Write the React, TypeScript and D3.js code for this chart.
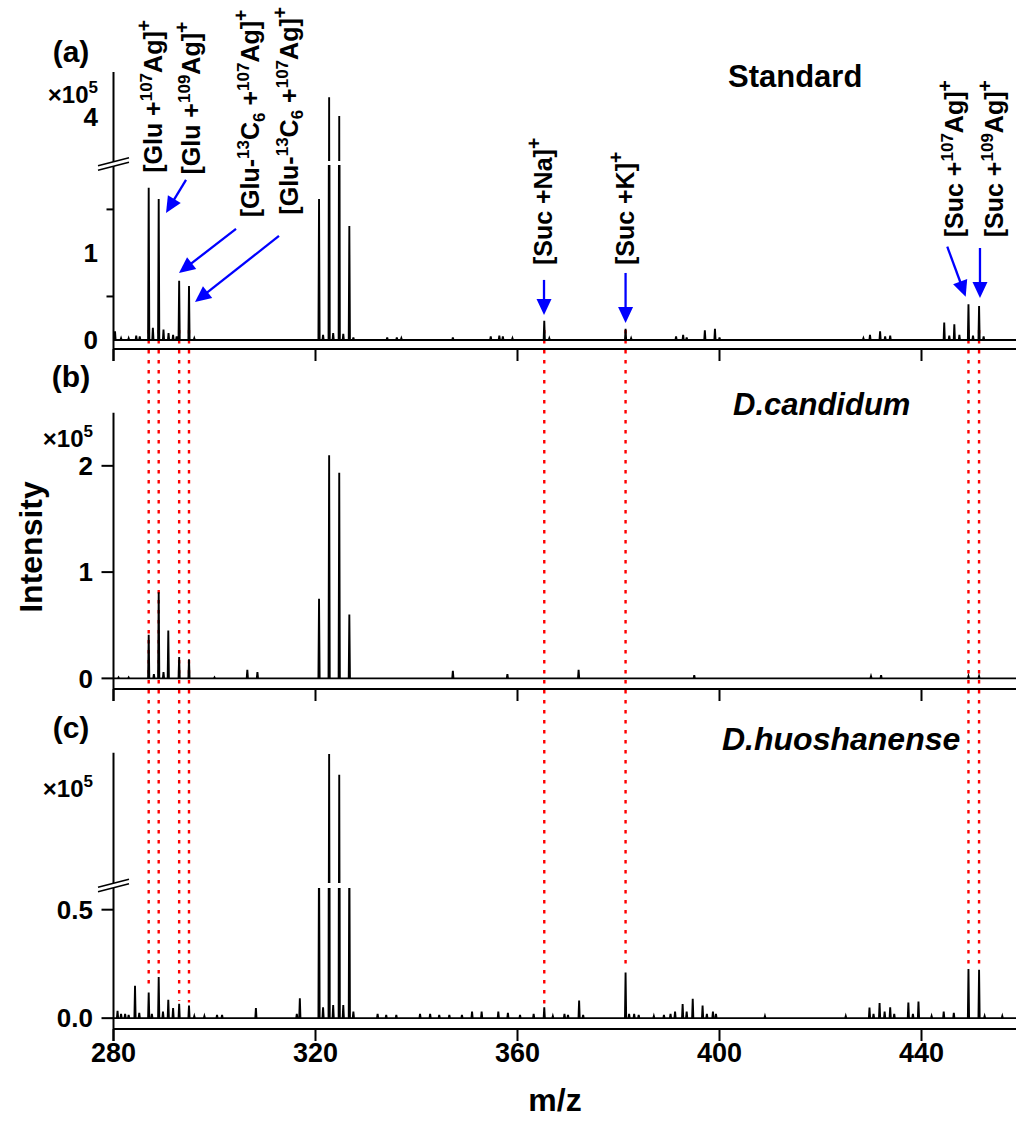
import React from "react";
import * as d3 from "d3";

// ---------------- DATA (m/z, intensity ×10^5) ----------------
const standardPeaks: [number, number][] = [
  [280.3, 0.1], [281.5, 0.02], [283.0, 0.02], [284.5, 0.05], [285.2, 0.04],
  [286.97, 1.75], [287.8, 0.14], [288.95, 1.62], [289.9, 0.12], [290.9, 0.08],
  [291.8, 0.06], [292.5, 0.04], [293.0, 0.68], [294.95, 0.62], [296.0, 0.02],
  [320.7, 1.62], [321.5, 0.06], [322.7, 4.22], [323.5, 0.08], [324.7, 4.01],
  [325.5, 0.07], [326.7, 1.31], [327.5, 0.03], [334.2, 0.03], [336.1, 0.03],
  [337.0, 0.02], [347.2, 0.03], [354.7, 0.04], [356.4, 0.05], [357.1, 0.04],
  [359.0, 0.02], [365.3, 0.22], [366.3, 0.02], [381.4, 0.13], [382.5, 0.02],
  [391.4, 0.04], [392.8, 0.06], [393.5, 0.03], [397.1, 0.11], [399.1, 0.13],
  [400.0, 0.03], [428.5, 0.02], [429.8, 0.06], [431.8, 0.1], [432.8, 0.04],
  [433.8, 0.05], [444.5, 0.2], [445.5, 0.05], [446.5, 0.18], [447.5, 0.06],
  [449.3, 0.41], [450.2, 0.05], [451.4, 0.39], [452.3, 0.04],
];

const candidumPeaks: [number, number][] = [
  [281.0, 0.01], [283.0, 0.01], [286.97, 0.41], [288.0, 0.04], [288.95, 0.81],
  [289.9, 0.06], [290.85, 0.45], [293.0, 0.2], [294.95, 0.18], [300.0, 0.01],
  [306.5, 0.08], [308.5, 0.06], [320.7, 0.75], [322.7, 2.1], [324.7, 1.935],
  [326.7, 0.6], [347.2, 0.07], [358.0, 0.04], [372.1, 0.08], [395.0, 0.03],
  [430.0, 0.02], [432.0, 0.03], [449.3, 0.02], [451.4, 0.02],
];

const huoshanensePeaks: [number, number][] = [
  [280.8, 0.034], [281.5, 0.02], [282.3, 0.02], [283.0, 0.015], [284.26, 0.149],
  [285.1, 0.025], [286.97, 0.118], [287.6, 0.02], [288.95, 0.19], [289.8, 0.03],
  [290.85, 0.085], [291.8, 0.046], [293.0, 0.066], [294.95, 0.058], [296.0, 0.01],
  [298.0, 0.01], [300.5, 0.015], [301.5, 0.015], [308.2, 0.046], [316.3, 0.02],
  [316.9, 0.092], [320.7, 0.8], [321.5, 0.05], [322.7, 1.99], [323.5, 0.06],
  [324.7, 1.83], [325.5, 0.06], [326.7, 0.8], [327.5, 0.03], [332.3, 0.02],
  [334.0, 0.015], [336.0, 0.015], [340.7, 0.02], [342.7, 0.02], [344.5, 0.015],
  [346.5, 0.015], [349.0, 0.015], [351.0, 0.03], [352.9, 0.03], [356.2, 0.03],
  [358.1, 0.025], [360.5, 0.015], [363.2, 0.02], [365.3, 0.05], [367.0, 0.01],
  [369.3, 0.02], [370.0, 0.015], [372.2, 0.081], [373.0, 0.015], [381.4, 0.21],
  [382.1, 0.02], [383.1, 0.02], [384.0, 0.015], [387.0, 0.01], [389.0, 0.015],
  [390.3, 0.02], [391.2, 0.03], [392.7, 0.065], [393.5, 0.03], [394.7, 0.089],
  [396.65, 0.058], [397.5, 0.02], [398.7, 0.03], [399.3, 0.02], [409.0, 0.01],
  [425.0, 0.01], [429.7, 0.049], [430.5, 0.02], [431.7, 0.07], [432.7, 0.03],
  [433.8, 0.05], [434.6, 0.02], [437.4, 0.072], [438.3, 0.02], [439.4, 0.077],
  [442.0, 0.01], [444.4, 0.03], [446.4, 0.025], [449.3, 0.226], [451.4, 0.223],
  [452.5, 0.01], [456.0, 0.01],
];

const markerMz = [286.97, 288.95, 293.0, 294.95, 365.3, 381.4, 449.3, 451.4];

const xTicks = [280, 320, 360, 400, 440];
const xDomain: [number, number] = [280, 460];

const yTicksA = [0, 1];
const yTicksAUpper = [4];
const yMinorA = [0.5, 1.5];
const yTicksB = [0, 1, 2];
const yTicksC = [0, 0.5];

const panelNames = ["Standard", "D.candidum", "D.huoshanense"];
const panelLetters = ["(a)", "(b)", "(c)"];

type Part = { t: string; k?: "sup" | "sub" | "supL" };
const annotationTexts: Part[][] = [
  [{ t: "[Glu +" }, { t: "107", k: "sup" }, { t: "Ag]" }, { t: "+", k: "supL" }],
  [{ t: "[Glu +" }, { t: "109", k: "sup" }, { t: "Ag]" }, { t: "+", k: "supL" }],
  [{ t: "[Glu-" }, { t: "13", k: "sup" }, { t: "C" }, { t: "6", k: "sub" }, { t: " +" }, { t: "107", k: "sup" }, { t: "Ag]" }, { t: "+", k: "supL" }],
  [{ t: "[Glu-" }, { t: "13", k: "sup" }, { t: "C" }, { t: "6", k: "sub" }, { t: " +" }, { t: "107", k: "sup" }, { t: "Ag]" }, { t: "+", k: "supL" }],
  [{ t: "[Suc +Na]" }, { t: "+", k: "supL" }],
  [{ t: "[Suc +K]" }, { t: "+", k: "supL" }],
  [{ t: "[Suc +" }, { t: "107", k: "sup" }, { t: "Ag]" }, { t: "+", k: "supL" }],
  [{ t: "[Suc +" }, { t: "109", k: "sup" }, { t: "Ag]" }, { t: "+", k: "supL" }],
];
// anchor positions of annotation labels (m/z of baseline, intensity of text start) in panel (a)
const annotationAnchorMz = [289.6, 297.1, 308.9, 316.5, 366.9, 383.1, 448.3, 456.2];
const annotationAnchorY = [1.92, 1.9, 1.41, 1.44, 0.86, 0.86, 1.18, 1.18];

// arrows in panel (a): tail and tip in data units
const arrowTail: [number, number][] = [
  [294.36, 1.839], [304.26, 1.276], [312.77, 1.195], [365.25, 0.69],
  [381.4, 0.77], [445.1, 1.072], [451.58, 1.057],
];
const arrowTip: [number, number][] = [
  [290.4, 1.46], [292.97, 0.77], [296.14, 0.437], [365.25, 0.287],
  [381.4, 0.195], [448.75, 0.498], [451.58, 0.483],
];

// ---------------- LAYOUT ----------------
const W = 1016;
const H = 1122;
const FONT = "'Liberation Sans', Arial, Helvetica, sans-serif";
const AX_LEFT = 113.5;

const x = d3.scaleLinear().domain(xDomain).range([AX_LEFT, 1022.5]);

const yA = d3.scaleLinear().domain([-0.1, 2.01]).range([348.7, 165]);
const yAU = d3.scaleLinear().domain([3.51, 4.5]).range([161, 72]);
const yB = d3.scaleLinear().domain([-0.1, 2.5]).range([689, 412.7]);
const yC = d3.scaleLinear().domain([-0.05, 0.6]).range([1029, 888]);
const yCU = d3.scaleLinear().domain([1.0, 2.0]).range([883, 752.7]);

function spectrumPath(peaks: [number, number][], y: d3.ScaleLinear<number, number>) {
  const pts: [number, number][] = [[xDomain[0], 0]];
  const sorted = [...peaks].sort((a, b) => a[0] - b[0]);
  const w = 0.12;
  sorted.forEach(([m, h]) => {
    pts.push([m - w, 0], [m, h], [m + w, 0]);
  });
  pts.push([xDomain[1], 0]);
  return d3.line<[number, number]>().x((d) => x(d[0])).y((d) => y(d[1]))(pts) || "";
}

function RichText({ parts, size, transform }: { parts: Part[]; size: number; transform: string }) {
  let shift = 0;
  return (
    <text transform={transform} fontFamily={FONT} fontWeight="bold" fontSize={size} fill="#000">
      {parts.map((p, i) => {
        let target = 0;
        let fs = size;
        if (p.k === "sup") { target = -size * 0.4; fs = size * 0.68; }
        if (p.k === "supL") { target = -size * 0.45; fs = size * 0.78; }
        if (p.k === "sub") { target = size * 0.22; fs = size * 0.68; }
        const dy = target - shift;
        shift = target;
        return (
          <tspan key={i} dy={dy} fontSize={fs}>{p.t}</tspan>
        );
      })}
    </text>
  );
}

function Arrow({ tail, tip }: { tail: [number, number]; tip: [number, number] }) {
  const x1 = x(tail[0]), y1 = yA(tail[1]);
  const x2 = x(tip[0]), y2 = yA(tip[1]);
  const dx = x2 - x1, dy = y2 - y1;
  const len = Math.hypot(dx, dy);
  const ux = dx / len, uy = dy / len;
  const hl = 16, hw = 7.5;
  const bx = x2 - ux * hl, by = y2 - uy * hl;
  const px = -uy, py = ux;
  const pts = `${x2},${y2} ${bx + px * hw},${by + py * hw} ${bx - px * hw},${by - py * hw}`;
  return (
    <g>
      <line x1={x1} y1={y1} x2={bx + ux * 2} y2={by + uy * 2} stroke="#0000ff" strokeWidth={2.3} />
      <polygon points={pts} fill="#0000ff" />
    </g>
  );
}

function BreakMark({ cy }: { cy: number }) {
  const hx = 15.5, hy = 4, gap = 2.3;
  const l1 = { x1: AX_LEFT - hx, y1: cy - gap + hy, x2: AX_LEFT + hx, y2: cy - gap - hy };
  const l2 = { x1: AX_LEFT - hx, y1: cy + gap + hy, x2: AX_LEFT + hx, y2: cy + gap - hy };
  return (
    <g>
      <polygon
        points={`${l1.x1},${l1.y1} ${l1.x2},${l1.y2} ${l2.x2},${l2.y2} ${l2.x1},${l2.y1}`}
        fill="#fff"
      />
      <line {...l1} stroke="#000" strokeWidth={1.6} />
      <line {...l2} stroke="#000" strokeWidth={1.6} />
    </g>
  );
}

function XAxis({ yPos }: { yPos: number }) {
  return (
    <g>
      <line x1={AX_LEFT} x2={W} y1={yPos} y2={yPos} stroke="#000" strokeWidth={2} />
      {xTicks.map((t) => (
        <line key={t} x1={x(t)} x2={x(t)} y1={yPos} y2={yPos + 12} stroke="#000" strokeWidth={2} />
      ))}
    </g>
  );
}

function TimesTen({ right, baseY }: { right: number; baseY: number }) {
  return (
    <text x={right} y={baseY} textAnchor="end" fontFamily={FONT} fontWeight="bold" fontSize={24}>
      ×10<tspan dy={-10} fontSize={17}>5</tspan>
    </text>
  );
}

function nearestPeak(peaks: [number, number][], m: number) {
  let best = 0;
  peaks.forEach(([pm, h]) => {
    if (Math.abs(pm - m) < 0.3 && h > best) best = h;
  });
  return best;
}

export default function App() {
  const tickLabel = (v: number, y: number, right: number, fmt: (v: number) => string) => (
    <text key={v} x={right} y={y + 9.3} textAnchor="end" fontFamily={FONT} fontWeight="bold" fontSize={26}>
      {fmt(v)}
    </text>
  );

  return (
    <svg
      width={W}
      height={H}
      viewBox={`0 0 ${W} ${H}`}
      style={{ position: "absolute", left: 0, top: 0, background: "#fff" }}
    >
      <defs>
        <clipPath id="clipALow"><rect x={0} y={165} width={W} height={200} /></clipPath>
        <clipPath id="clipAUp"><rect x={0} y={0} width={W} height={161} /></clipPath>
        <clipPath id="clipCLow"><rect x={0} y={888} width={W} height={200} /></clipPath>
        <clipPath id="clipCUp"><rect x={0} y={700} width={W} height={183} /></clipPath>
      </defs>
      <rect x={0} y={0} width={W} height={H} fill="#fff" />

      {/* red dotted guide lines */}
      {markerMz.map((m) => (
        <line
          key={m}
          x1={x(m)}
          x2={x(m)}
          y1={330}
          y2={yC(nearestPeak(huoshanensePeaks, m)) - 3}
          stroke="#ff0000"
          strokeWidth={2.4}
          strokeDasharray="3.5,6.5"
        />
      ))}

      {/* ---------- Panel (a) ---------- */}
      <path d={spectrumPath(standardPeaks, yA)} fill="none" stroke="#000" strokeWidth={1.9} clipPath="url(#clipALow)" />
      <path d={spectrumPath(standardPeaks, yAU)} fill="none" stroke="#000" strokeWidth={1.9} clipPath="url(#clipAUp)" />
      <line x1={AX_LEFT} x2={AX_LEFT} y1={72} y2={361} stroke="#000" strokeWidth={2} />
      <XAxis yPos={349} />
      {yMinorA.map((v) => (
        <line key={v} x1={AX_LEFT - 7} x2={AX_LEFT} y1={yA(v)} y2={yA(v)} stroke="#000" strokeWidth={2} />
      ))}
      {yTicksA.map((v) => tickLabel(v, yA(v), 98, (d) => String(d)))}
      {yTicksAUpper.map((v) => tickLabel(v, yAU(v), 98, (d) => String(d)))}
      <BreakMark cy={164} />
      <TimesTen right={98} baseY={103} />

      {/* ---------- Panel (b) ---------- */}
      <path d={spectrumPath(candidumPeaks, yB)} fill="none" stroke="#000" strokeWidth={1.9} />
      <line x1={AX_LEFT} x2={AX_LEFT} y1={412.7} y2={701} stroke="#000" strokeWidth={2} />
      <XAxis yPos={689} />
      {yTicksB.map((v) => (
        <line key={v} x1={AX_LEFT - 12} x2={AX_LEFT} y1={yB(v)} y2={yB(v)} stroke="#000" strokeWidth={2} />
      ))}
      {yTicksB.map((v) => tickLabel(v, yB(v), 93, (d) => String(d)))}
      <TimesTen right={93} baseY={447} />

      {/* ---------- Panel (c) ---------- */}
      <path d={spectrumPath(huoshanensePeaks, yC)} fill="none" stroke="#000" strokeWidth={1.9} clipPath="url(#clipCLow)" />
      <path d={spectrumPath(huoshanensePeaks, yCU)} fill="none" stroke="#000" strokeWidth={1.9} clipPath="url(#clipCUp)" />
      <line x1={AX_LEFT} x2={AX_LEFT} y1={752.7} y2={1041} stroke="#000" strokeWidth={2} />
      <XAxis yPos={1029} />
      {yTicksC.map((v) => (
        <line key={v} x1={AX_LEFT - 12} x2={AX_LEFT} y1={yC(v)} y2={yC(v)} stroke="#000" strokeWidth={2} />
      ))}
      {yTicksC.map((v) => tickLabel(v, yC(v), 93, d3.format(".1f")))}
      <BreakMark cy={885.5} />
      <TimesTen right={93} baseY={797} />

      {/* x tick labels */}
      {xTicks.map((t) => (
        <text key={t} x={x(t)} y={1062} textAnchor="middle" fontFamily={FONT} fontWeight="bold" fontSize={27}>
          {t}
        </text>
      ))}

      {/* axis titles */}
      <text x={555} y={1111} textAnchor="middle" fontFamily={FONT} fontWeight="bold" fontSize={32}>m/z</text>
      <text
        transform="translate(42,547) rotate(-90)"
        textAnchor="middle"
        fontFamily={FONT}
        fontWeight="bold"
        fontSize={32}
      >
        Intensity
      </text>

      {/* panel letters */}
      {panelLetters.map((l, i) => (
        <text key={l} x={71} y={[62, 387, 738][i]} textAnchor="middle" fontFamily={FONT} fontWeight="bold" fontSize={30}>
          {l}
        </text>
      ))}

      {/* panel names */}
      <text x={728} y={87} fontFamily={FONT} fontWeight="bold" fontSize={31}>{panelNames[0]}</text>
      <text x={733} y={415} fontFamily={FONT} fontWeight="bold" fontStyle="italic" fontSize={31}>{panelNames[1]}</text>
      <text x={722} y={750} fontFamily={FONT} fontWeight="bold" fontStyle="italic" fontSize={32}>{panelNames[2]}</text>

      {/* annotations */}
      {annotationTexts.map((parts, i) => (
        <RichText
          key={i}
          parts={parts}
          size={25}
          transform={`translate(${x(annotationAnchorMz[i])},${yA(annotationAnchorY[i])}) rotate(-90)`}
        />
      ))}
      {arrowTail.map((t, i) => (
        <Arrow key={i} tail={t} tip={arrowTip[i]} />
      ))}
    </svg>
  );
}
